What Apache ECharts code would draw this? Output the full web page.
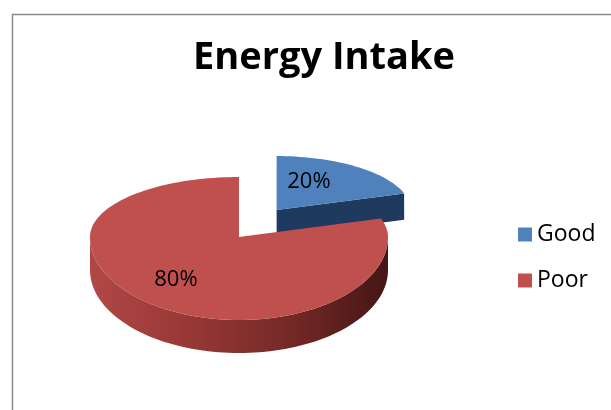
<!DOCTYPE html>
<html>
<head>
<meta charset="utf-8">
<script src="https://cdn.jsdelivr.net/npm/echarts@6/dist/echarts.min.js"></script>
<style>
html,body{margin:0;padding:0;background:#fff;}
#c{width:611px;height:410px;}
</style>
</head>
<body>
<div id="c"></div>
<script>
// ---- data ----
const chartTitle = 'Energy Intake';
const categories = ['Good', 'Poor'];
const values = [20, 80];

// ---- styling / layout ----
const topColors = ['#4f81bd', '#c0504d'];
const faceColors = ['#1f3a5f', '#5e1f1e'];
const layout = {
  cx: 239, cy: 237, rx: 149, ryBack: 60, ryFront: 83, depth: 33,
  explode: [64, 0], explodeYRatio: 0.52, explodeScale: [0.9, 1],
  labelFrac: [[0.41, 0.66], [0.72, 0.63]]
};

const total = values.reduce((a, b) => a + b, 0);
const TWO_PI = Math.PI * 2;

function sideGradient() {
  return new echarts.graphic.LinearGradient(0, 0, 1, 0, [
    { offset: 0, color: '#b04846' },
    { offset: 0.3, color: '#9a3937' },
    { offset: 0.65, color: '#772a28' },
    { offset: 1, color: '#441615' }
  ]);
}

function makeRender(i) {
  return function (params, api) {
    const v = api.value(0);
    let before = 0;
    for (let k = 0; k < i; k++) before += values[k];
    const a0 = before / total * TWO_PI;
    const a1 = a0 + v / total * TWO_PI;
    const mid = (a0 + a1) / 2;
    const sc = layout.explodeScale[i];
    const d = layout.explode[i];
    const ax = layout.cx + d * Math.sin(mid);
    const ay = layout.cy - d * layout.explodeYRatio * Math.cos(mid);
    const rx = layout.rx * sc, ryB = layout.ryBack * sc, ryF = layout.ryFront * sc;
    const dep = layout.depth * (sc < 1 ? 0.8 : 1);
    function pt(t, dy) {
      const s = Math.sin(t), c = Math.cos(t);
      return [ax + rx * s, ay - (c > 0 ? ryB : ryF) * c + (dy || 0)];
    }
    function arc(s0, s1, dy) {
      const n = Math.max(2, Math.ceil(Math.abs(s1 - s0) / (Math.PI / 90)));
      const out = [];
      for (let j = 0; j <= n; j++) out.push(pt(s0 + (s1 - s0) * j / n, dy));
      return out;
    }
    const children = [];
    if (Math.sin(a0) < -1e-6) {
      const p = pt(a0);
      children.push({ type: 'polygon', shape: { points: [[ax, ay], p, [p[0], p[1] + dep], [ax, ay + dep]] }, style: { fill: faceColors[i] } });
    }
    if (Math.sin(a1) > 1e-6) {
      const p = pt(a1);
      children.push({ type: 'polygon', shape: { points: [[ax, ay], p, [p[0], p[1] + dep], [ax, ay + dep]] }, style: { fill: faceColors[i] } });
    }
    const s0 = Math.max(a0, Math.PI / 2), s1 = Math.min(a1, Math.PI * 1.5);
    if (s1 > s0) {
      const topArc = arc(s0, s1, 0);
      const botArc = arc(s1, s0, dep);
      children.push({ type: 'polygon', shape: { points: topArc.concat(botArc) }, style: { fill: i === 1 ? sideGradient() : faceColors[i] } });
    }
    const topPts = [[ax, ay]].concat(arc(a0, a1, 0));
    children.push({ type: 'polygon', shape: { points: topPts }, style: { fill: topColors[i] } });
    const lf = layout.labelFrac[i];
    const lx = ax + rx * lf[0] * Math.sin(mid);
    const c = Math.cos(mid);
    const ly = ay - (c > 0 ? ryB : ryF) * lf[1] * c;
    children.push({ type: 'text', z2: 10, style: { text: Math.round(v / total * 100) + '%', x: lx, y: ly, fill: '#000', font: '22px "Open Sans"', align: 'center', verticalAlign: 'middle' } });
    return { type: 'group', children: children };
  };
}

const chart = echarts.init(document.getElementById('c'), null, { renderer: 'canvas' });
chart.setOption({
  animation: false,
  backgroundColor: '#fff',
  title: {
    text: chartTitle, left: 319, top: 34, textAlign: 'center',
    textStyle: { fontFamily: 'Open Sans', fontWeight: 'bold', fontSize: 38, color: '#000' }
  },
  legend: {
    orient: 'vertical', left: 513, top: 218, icon: 'rect', itemWidth: 14, itemHeight: 14, itemGap: 23,
    data: categories,
    textStyle: { fontFamily: 'Open Sans', fontSize: 23, color: '#000' }
  },
  graphic: [{
    type: 'rect', silent: true, z: -10,
    shape: { x: 12.5, y: 14.5, width: 700, height: 500 },
    style: { fill: null, stroke: '#8a8a8a', lineWidth: 1.5 }
  }],
  series: categories.map((name, i) => ({
    type: 'custom', name: name, coordinateSystem: 'none',
    itemStyle: { color: topColors[i] },
    data: [[values[i]]],
    renderItem: makeRender(i)
  }))
});
</script>
</body>
</html>
